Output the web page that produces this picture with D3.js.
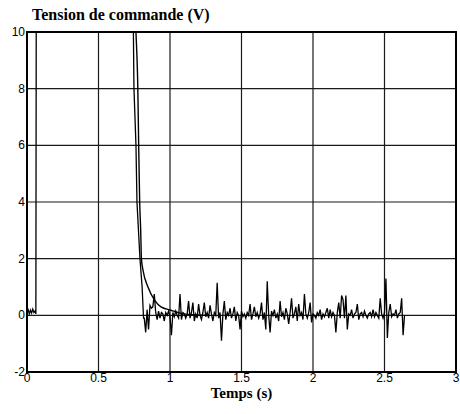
<!DOCTYPE html>
<html>
  <head>
    <meta charset="utf-8">
    <script type="text/javascript" src="https://cdn.jsdelivr.net/npm/d3@7/dist/d3.min.js"></script>
    <style media="screen">
    body{
      margin:0;
      background-color:#fff;
    }
    .tick-label{
      font-family:"Liberation Sans",Arial,sans-serif;
      font-size:12px;
      fill:#000;
    }
    .titre{
      font-family:"Liberation Serif","DejaVu Serif","Times New Roman",serif;
      font-weight:bold;
      fill:#000;
    }
    </style>
    <title>Tension de commande</title>
  </head>
  <body>
    <div id="graph"></div>

    <script type="text/javascript">

    // axes
    var xTicks=[0,0.5,1,1.5,2,2.5,3];
    var xTickLabels=["0","0.5","1","1.5","2","2.5","3"];
    var yTicks=[-2,0,2,4,6,8,10];
    var yTickLabels=["-2","0","2","4","6","8","10"];

    // mesure : debut (bruit, saut, saturation, chute)
    var startT=[0,0.008,0.016,0.024,0.032,0.04,0.048,0.056,0.062,0.065,0.74,0.748,0.762,0.769,0.79,0.805,0.815];
    var startV=[0.1,0.2,0.05,0.18,0.08,0.22,0.1,0.15,0.05,12,12,8,6,4,2,1.0,-0.1];

    // mesure : bruit apres la chute, un echantillon toutes les 10 ms a partir de 0.82 s
    var noiseT0=0.82;
    var noiseDt=0.01;
    var noiseV=[
      -0.1,-0.6,0.2,-0.5,0.35,0.25,0.3,0.75,0.1,-0.15,
      0.15,-0.1,0.1,0.05,-0.2,0.1,0.0,0.15,-0.05,-0.7,
      0.1,-0.05,0.15,0.0,-0.1,0.75,-0.15,0.1,0.05,-0.1,
      0.05,0.5,-0.1,0.1,0.45,-0.2,0.05,-0.1,0.4,0.0,
      -0.15,0.1,0.45,-0.05,0.1,-0.1,0.35,0.05,-0.2,0.1,
      0.0,1.15,-0.1,0.1,-0.9,0.05,0.5,-0.15,0.1,0.0,
      0.25,-0.1,0.05,0.3,-0.2,0.1,0.0,-0.5,0.15,-0.05,
      0.05,-0.1,0.1,0.0,0.4,-0.15,0.05,0.3,-0.05,0.1,
      -0.1,0.05,0.45,-0.15,0.1,-0.5,1.2,0.0,-0.6,0.15,
      0.0,0.2,-0.1,0.05,-0.2,0.5,-0.05,0.1,-0.15,0.25,
      0.05,-0.3,0.1,0.6,-0.1,0.05,0.3,-0.2,0.4,0.0,
      0.1,-0.15,0.75,0.05,-0.1,0.1,0.45,-0.25,0.05,0.0,
      -0.1,0.1,0.0,0.2,-0.15,0.05,-0.05,0.1,0.25,-0.1,
      0.2,-0.05,0.1,0.0,-0.6,0.1,0.45,-0.1,0.7,0.55,
      -0.1,0.7,-0.5,0.05,0.0,0.2,-0.1,0.05,0.1,0.4,
      -0.15,0.05,0.1,-0.05,0.15,0.0,-0.1,0.05,0.1,-0.05,
      0.2,-0.05,0.1,0.0,-0.1,0.6,0.05,-0.1,0.1,1.3,
      -0.8,0.1,0.4,-0.05,0.05,0.0,0.2,-0.1,0.05,0.1,0.6,-0.7,0.0
    ];

    // courbe lisse (decroissance)
    var smoothT=[0.755,0.762,0.775,0.781,0.788,0.795,0.800,0.811,0.846,0.893,0.937,1.007,1.077,1.17,1.25];
    var smoothV=[11,10,8,6,4,3,2,1.6,1.0,0.53,0.3,0.18,0.07,0.02,0.0];

    var width=460;
    var height=414;
    var margin={top:32,right:4,bottom:42,left:27};

    var svg=d3.select('#graph').append('svg')
      .attr('width',width)
      .attr('height',height);

    var x=d3.scaleLinear().domain([0,3]).range([margin.left,width-margin.right]);
    var y=d3.scaleLinear().domain([-2,10]).range([height-margin.bottom,margin.top]);

    svg.append('clipPath').attr('id','zone')
      .append('rect')
      .attr('x',x(0)).attr('y',y(10))
      .attr('width',x(3)-x(0)).attr('height',y(-2)-y(10));

    // grille
    svg.append('g').selectAll('line.vx').data(xTicks.slice(1,-1)).enter().append('line')
      .attr('x1',function(d){return x(d);})
      .attr('x2',function(d){return x(d);})
      .attr('y1',y(10)).attr('y2',y(-2))
      .style('stroke','#1a1a1a').style('stroke-width',1.2);
    svg.append('g').selectAll('line.hy').data(yTicks.slice(1,-1)).enter().append('line')
      .attr('y1',function(d){return y(d);})
      .attr('y2',function(d){return y(d);})
      .attr('x1',x(0)).attr('x2',x(3))
      .style('stroke','#1a1a1a').style('stroke-width',1.2);

    // courbes
    var plot=svg.append('g').attr('clip-path','url(#zone)');

    var mesure=[];
    startT.forEach(function(t,i){ mesure.push([t,startV[i]]); });
    noiseV.forEach(function(v,i){ mesure.push([noiseT0+i*noiseDt,v]); });

    var ligne=d3.line()
      .x(function(d){return x(d[0]);})
      .y(function(d){return y(d[1]);});

    plot.append('path').datum(mesure)
      .attr('d',ligne)
      .style('fill','none').style('stroke','#000').style('stroke-width',1.3);

    var lisse=smoothT.map(function(t,i){return [t,smoothV[i]];});
    plot.append('path').datum(lisse)
      .attr('d',ligne.curve(d3.curveMonotoneX))
      .style('fill','none').style('stroke','#000').style('stroke-width',1.4);

    // cadre
    svg.append('rect')
      .attr('x',x(0)).attr('y',y(10))
      .attr('width',x(3)-x(0)).attr('height',y(-2)-y(10))
      .style('fill','none').style('stroke','#000').style('stroke-width',2);

    // graduations
    svg.append('g').selectAll('text').data(xTicks).enter().append('text')
      .attr('class','tick-label')
      .attr('x',function(d){return x(d);})
      .attr('y',y(-2)+10)
      .attr('text-anchor','middle')
      .text(function(d,i){return xTickLabels[i];});

    svg.append('g').selectAll('text').data(yTicks).enter().append('text')
      .attr('class','tick-label')
      .attr('x',x(0)-2)
      .attr('y',function(d){return y(d)+4;})
      .attr('text-anchor','end')
      .text(function(d,i){return yTickLabels[i];});

    // titres
    svg.append('text').attr('class','titre')
      .attr('x',32).attr('y',20)
      .style('font-size','16px')
      .text('Tension de commande (V)');

    svg.append('text').attr('class','titre')
      .attr('x',x(1.5)).attr('y',398)
      .attr('text-anchor','middle')
      .style('font-size','15px')
      .text('Temps (s)');

    </script>
  </body>
</html>
